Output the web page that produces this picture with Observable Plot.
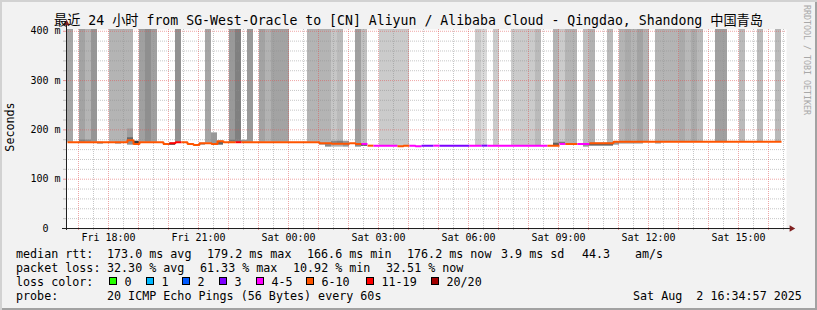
<!DOCTYPE html>
<html>
<head>
<meta charset="utf-8">
<script src="https://cdn.jsdelivr.net/npm/d3@7"></script>
<script src="https://cdn.jsdelivr.net/npm/@observablehq/plot@0.6"></script>
<style>
  html, body { margin: 0; padding: 0; background: #f2f2f2; }
  #wrap { position: relative; width: 817px; height: 310px; background: #f2f2f2; overflow: hidden;
          font-family: "DejaVu Sans Mono", monospace; color: #000;
          box-shadow: inset 2px 2px 0 #d2d2d2, inset -2px -2px 0 #a2a2a2; }
  #chart { position: absolute; left: 0; top: 0; }
  #chart svg { display: block; overflow: visible; }
  .abs { position: absolute; white-space: pre; }
  #title { left: 0; width: 817px; top: 13.3px; font-size: 13.2px; line-height: 16px; text-align: center;
           font-family: "DejaVu Sans Mono", "Noto Sans CJK SC", monospace; }
  #ylab { left: 10.5px; top: 127px; font-size: 11.7px; line-height: 1; transform: translate(-50%, -50%) rotate(-90deg); }
  #credit { left: 803px; top: 5px; font-size: 8.3px; line-height: 1; writing-mode: vertical-rl; color: #a8a8a8; }
  .leg { font-size: 11.7px; line-height: 14px; }
  .box { position: absolute; width: 6px; height: 6px; border: 1px solid #000; top: 276.5px; }
</style>
</head>
<body>
<div id="wrap">
  <div id="chart"></div>
  <div id="title" class="abs"></div>
  <div id="ylab" class="abs">Seconds</div>
  <div id="credit" class="abs">RRDTOOL / TOBI OETIKER</div>
  <div id="legend"></div>
</div>
<script>
// ---------------- data ----------------
const title = "最近 24 小时 from SG-West-Oracle to [CN] Aliyun / Alibaba Cloud - Qingdao, Shandong 中国青岛";
const slotStartUTC = Date.UTC(2025, 7, 1, 16, 38);   // first 12-minute step
const slotMinutes = 12;

// median rtt per step (ms)
const median = [
  175,175,175,175,175,175,175,175,175,175,
  179.2,171.5,175,175,175,175,171.5,173,175,175,
  171.5,169.5,173,173,171.5,177,175,175,175,175,
  175,175,175,175,175,175,175,175,175,175,
  175,175,173,173,172,172,172,173,171.5,171.5,
  168,168,168,168,168,166.6,168,168,166.6,168,
  168,168,168,168,168,168,168,168,168,168,
  168,168,168,168,168,168,168,168,168,168,
  168,168,171.5,171.5,171.5,171.5,171.5,173,173,173,
  173,176,176,176,176,176,176,176,176,176,
  176,176,176,176,176,176,176,176,176,176,
  176,176,176,176,176,176,176,176,176
];

// lost pings (of 20) per step
const lost = [
  8,6.5,8,7.5,9,6.5,6.5,7.5,7.5,7.5,
  7.5,6.5,8.5,9.5,8.5,6.5,6.5,12.3,11.6,6.5,
  6.5,6.5,6.5,8,6.5,6.5,6.5,9,11.2,6.5,
  9,6.5,8,7.5,8,8,8,6.5,6.5,6.5,
  7.5,7.5,7.5,7.5,7,7,6.2,6.2,8.5,4.6,
  6.2,4.6,4.8,4.8,4.8,6.3,6.3,4.5,4.5,3.3,
  3.3,4.2,3.4,3.2,3.2,3.4,3.2,4.2,4.8,3.6,
  4.3,4.8,4.2,4.2,5,5,5,5,5.2,4.4,
  6.2,7,5.5,7,7,4.6,5.8,7.5,6.2,6.2,
  7,6.2,7.5,8,7.5,8.5,7.5,6.2,7.5,7.5,
  7.5,7.5,8,7.2,8,7.2,6.2,6.2,8.5,8.5,
  6.2,6.2,7,6.2,6.2,7,6.2,6.2,7
];

// density of the smoke reaching the top of the graph per step (0 = none)
const smokeDensity = [
  5.9,0,6.2,4.6,7.4,0,0,4.6,4.6,4.6,
  4.6,0,6.5,8.1,6.5,0,0,0,7.8,0,
  0,0,0,6.0,0,0,0,7.1,9.4,0,
  7.1,0,6.2,4.8,6.2,6.2,6.2,0,0,0,
  4.6,4.6,4.6,4.6,3.0,4.1,0,0,6.5,3.4,
  0,0,2.5,2.5,2.5,2.5,2.5,0,0,0,
  0,0,0,0,0,0,0,0,2.5,1.1,
  0,2.5,0,0,2.5,2.5,2.5,2.5,4.1,0,
  0,4.6,2.5,4.6,4.6,0,3.6,4.8,0,0,
  4.1,0,4.6,5.6,4.6,6.2,4.6,0,4.6,4.6,
  4.6,4.6,5.6,4.3,5.6,4.3,0,0,6.5,6.5,
  0,0,4.1,0,0,4.1,0,0,4.1
];

// smoke close to the median line
const nearSlot    = [2,3,5,8,10,10,11,16,17,22,24,25,27,29,42,43,44,45,46,48,49,81,82,83,84,86,87,88,89,90,91,92,93,94,95,98];
const nearLo      = [175,175,171,171,184,169,171.5,169,169,169,171.5,169,175,175,169,165,165,165,165,165,167,168,171.5,169,169,165,167,167,167,167,169,171,171,171,171,171];
const nearHi      = [179.3,179.3,175,175,202,184,177,171.5,173,173,194,177,179,179,173,173,177,177,177,171.5,171.5,173,175,171.5,171.5,171.5,173,173,173,173,176,176,176,176,176,176];
const nearDensity = [3,3,7.1,7.1,0.5,8,16,17,18,8.5,7.1,12,3,7.1,7.1,8.5,5,5,7.1,8.5,18,8.5,7.1,7.1,7.1,7.1,12,12,12,12,7.1,5.5,5.5,5.5,5.5,5.5];

const yTicks = [0, 100, 200, 300, 400];
const lossLabels = ["0", "1", "2", "3", "4-5", "6-10", "11-19", "20/20"];
const lossFrom   = [0, 1, 2, 3, 4, 6, 11, 20];
const lossColors = ["#26ff00", "#00b8ff", "#0059ff", "#7e00ff", "#ff00ff", "#ff5500", "#ff0000", "#a10000"];

const rttStats  = ["173.0", "179.2", "166.6", "176.2"];   // avg max min now
const rttSd = "3.9", amPerS = "44.3";
const lossStats = ["32.30", "61.33", "10.92", "32.51"];   // avg max min now
const probe = "20 ICMP Echo Pings (56 Bytes) every 60s";
const stamp = "Sat Aug  2 16:34:57 2025";

// ---------------- build ----------------
const MS = 60000;
const tStart = new Date(Date.UTC(2025, 7, 1, 16, 36));
const tEnd = new Date(Date.UTC(2025, 7, 2, 16, 36));
const yTop = 403.6;

const slots = median.map((m, i) => ({
  t0: new Date(slotStartUTC + i * slotMinutes * MS),
  t1: new Date(slotStartUTC + (i + 1) * slotMinutes * MS),
  m, lost: lost[i], dens: smokeDensity[i]
}));
const bucket = v => { let b = 0; lossFrom.forEach((f, i) => { if (v >= f) b = i; }); return lossLabels[b]; };
const bars = slots.filter(d => d.dens > 0);
const near = nearSlot.map((s, i) => ({t0: slots[s].t0, t1: slots[s].t1, lo: nearLo[i], hi: nearHi[i], dens: nearDensity[i]}));
let run = 0;
const linePts = [];
slots.forEach((d, i) => {
  const b = bucket(d.lost);
  if (i > 0 && b !== bucket(slots[i - 1].lost)) run++;
  linePts.push({t: d.t0, v: d.m, run, b}, {t: d.t1, v: d.m, run, b});
});

const hours = d3.utcHour.range(tStart, tEnd);
const halfHours = d3.utcMinute.every(30).range(tStart, tEnd).filter(d => d.getUTCMinutes() === 30);
const labelTimes = d3.utcHour.every(3).range(tStart, tEnd);
const yMinor = d3.range(20, 400, 20).filter(v => v % 100 !== 0);
const yMajor = yTicks.filter(v => v > 0);
const fmtTime = d3.utcFormat("%a %H:%M");
const dotted = {strokeDasharray: "1,1"};

const svg = Plot.plot({
  width: 817, height: 245,
  marginLeft: 66, marginRight: 31, marginTop: 29, marginBottom: 17,
  style: {background: "transparent", fontFamily: "'DejaVu Sans Mono', monospace", fontSize: "10px", color: "#000", overflow: "visible"},
  x: {type: "utc", domain: [tStart, tEnd], label: null},
  y: {domain: [0, yTop], label: null},
  color: {type: "ordinal", domain: lossLabels, range: lossColors},
  opacity: {type: "linear", domain: [0, 20], range: [0.098, 0.945], clamp: true},
  marks: [
    Plot.frame({fill: "white", stroke: "none"}),
    Plot.rect(bars, {x1: "t0", x2: "t1", y1: "m", y2: yTop, fill: "black", fillOpacity: "dens"}),
    Plot.rect(near, {x1: "t0", x2: "t1", y1: "lo", y2: "hi", fill: "black", fillOpacity: "dens"}),
    Plot.gridY(yMinor, {stroke: "#909090", strokeOpacity: 0.5, ...dotted}),
    Plot.gridX(halfHours, {stroke: "#909090", strokeOpacity: 0.5, ...dotted}),
    Plot.gridY(yMajor, {stroke: "#e05050", strokeOpacity: 0.5, ...dotted}),
    Plot.gridX(hours, {stroke: "#e05050", strokeOpacity: 0.5, ...dotted}),
    Plot.line(linePts, {x: "t", y: "v", z: "run", stroke: "b", strokeWidth: 2, strokeLinecap: "butt", strokeLinejoin: "miter"}),
    Plot.axisY(yMinor, {tickSize: 3, tickFormat: () => "", stroke: "#909090", strokeOpacity: 0.5}),
    Plot.axisY(yMajor, {tickSize: 3, tickFormat: () => "", stroke: "#e05050", strokeOpacity: 0.6}),
    Plot.axisY(yTicks, {tickSize: 0, tickPadding: 6, fontSize: 10, tickFormat: v => v === 0 ? "0\u00a0\u00a0" : v + " m"}),
    Plot.axisX(halfHours, {tickSize: 2, tickFormat: () => "", stroke: "#909090", strokeOpacity: 0.5}),
    Plot.axisX(hours, {tickSize: 2, tickFormat: () => "", stroke: "#e05050", strokeOpacity: 0.6}),
    Plot.axisX(labelTimes, {tickSize: 0, tickPadding: 5, fontSize: 10, tickFormat: fmtTime}),
    Plot.ruleY([{v: 0, a: new Date(+tStart - 8 * MS), b: new Date(+tEnd + 8 * MS)}], {y: "v", x1: "a", x2: "b", stroke: "#202020"}),
    Plot.ruleX([{t: tStart}], {x: "t", y1: -4, y2: 414, stroke: "#202020"}),
    Plot.dot([{t: tStart, v: 416}], {x: "t", y: "v", symbol: "triangle", r: 2.4, fill: "#802020", stroke: "none"}),
    Plot.dot([{t: new Date(+tEnd + 10 * MS), v: 0}], {x: "t", y: "v", symbol: "triangle", r: 2.4, rotate: 90, fill: "#802020", stroke: "none"})
  ]
});
document.getElementById("chart").appendChild(svg);

// ---------------- texts ----------------
document.getElementById("title").textContent = title;
const leg = document.getElementById("legend");
const rows = [247.25, 261.25, 275.25, 289.25];
function put(x, top, text) {
  const s = document.createElement("div");
  s.className = "abs leg";
  s.style.left = x + "px"; s.style.top = top + "px";
  s.textContent = text;
  leg.appendChild(s);
}
put(16, rows[0], "median rtt:");
[[107, rttStats[0] + " ms avg"], [207, rttStats[1] + " ms max"], [307, rttStats[2] + " ms min"],
 [407, rttStats[3] + " ms now"], [501, rttSd + " ms sd"], [582, amPerS], [635, "am/s"]]
  .forEach(([x, t]) => put(x, rows[0], t));
put(16, rows[1], "packet loss:");
[[107, lossStats[0] + " % avg"], [200, lossStats[1] + " % max"], [293, lossStats[2] + " % min"], [386, lossStats[3] + " % now"]]
  .forEach(([x, t]) => put(x, rows[1], t));
put(16, rows[2], "loss color:");
const boxX = [109, 146, 182, 219, 256, 306, 366, 431];
lossLabels.forEach((lab, i) => {
  const b = document.createElement("div");
  b.className = "box";
  b.style.left = boxX[i] + "px";
  b.style.background = lossColors[i];
  leg.appendChild(b);
  put(boxX[i] + 15.5, rows[2], lab);
});
put(16, rows[3], "probe:");
put(107, rows[3], probe);
put(633, rows[3], stamp);
</script>
</body>
</html>
